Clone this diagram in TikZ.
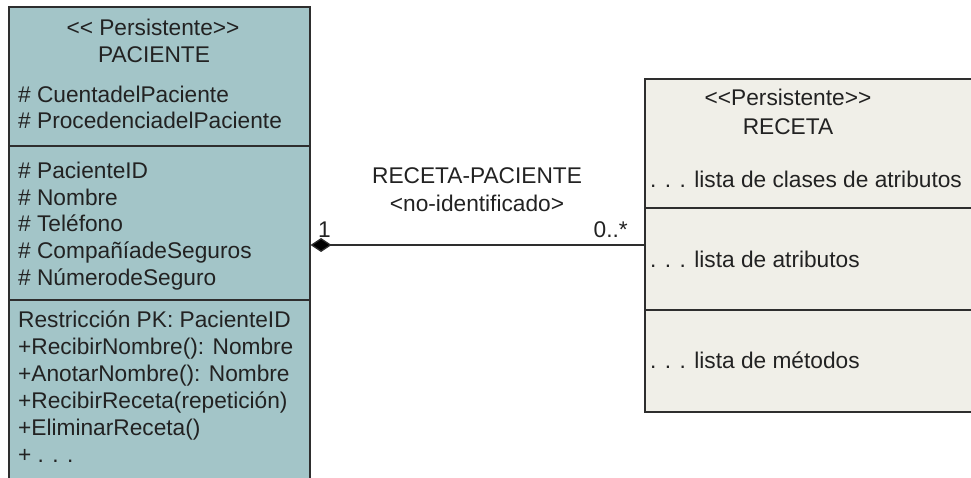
\documentclass[tikz,border=0pt]{standalone}
\usepackage{fontspec}
\setmainfont{Liberation Sans}[Ligatures=NoCommon]
\usetikzlibrary{arrows.meta}
\definecolor{pacfill}{HTML}{A3C5C8}
\definecolor{recfill}{HTML}{F0EFE8}
\definecolor{edge}{HTML}{2E2E2E}
\definecolor{ink}{HTML}{222222}
\tikzset{
  classbox/.style={draw=edge, line width=1.6pt, anchor=north west, inner sep=0pt},
  divider/.style={draw=edge, line width=1.6pt},
  txt/.style={anchor=base west, inner sep=0pt, text=ink, font=\fontsize{22.7}{26}\selectfont},
  ctxt/.style={anchor=base, inner sep=0pt, text=ink, font=\fontsize{22.7}{26}\selectfont},
  assoc/.style={draw=edge, line width=1.3pt, -{Diamond[length=21pt,width=14pt,fill=black]}}
}
\begin{document}
\begin{tikzpicture}[x=1pt,y=-1pt]
\useasboundingbox (0,0) rectangle (971,478);
\clip (0,0) rectangle (971,478);
% boxes
\node[classbox, fill=pacfill, minimum width=301pt, minimum height=490pt] (pac) at (8,6) {};
\node[classbox, fill=recfill, minimum width=340pt, minimum height=333pt] (rec) at (644,78) {};
% dividers
\coordinate (d1) at (0,146);
\coordinate (d2) at (0,300);
\coordinate (d3) at (0,208);
\coordinate (d4) at (0,310);
\draw[divider] (pac.west |- d1) -- (pac.east |- d1);
\draw[divider] (pac.west |- d2) -- (pac.east |- d2);
\draw[divider] (rec.west |- d3) -- (rec.east |- d3);
\draw[divider] (rec.west |- d4) -- (rec.east |- d4);
% PACIENTE texts
\node[ctxt] (p0) at (153,36) {<{}< Persistente>{}>};
\node[ctxt] (p1) at (154,63) {PACIENTE};
\node[txt] (a1) at (18,103) {\# CuentadelPaciente};
\node[txt] (a2) at (18,129) {\# ProcedenciadelPaciente};
\node[txt] (b1) at (18,179) {\# PacienteID};
\node[txt] (b2) at (18,205.5) {\# Nombre};
\node[txt] (b3) at (18,232) {\# Teléfono};
\node[txt] (b4) at (18,258.5) {\# CompañíadeSeguros};
\node[txt] (b5) at (18,285) {\# NúmerodeSeguro};
\node[txt] (c1) at (18,327) {Restricción PK: PacienteID};
\node[txt] (c2) at (18,354) {+RecibirNombre(): Nombre};
\node[txt] (c3) at (18,381) {+AnotarNombre(): Nombre};
\node[txt] (c4) at (18,408) {+RecibirReceta(repetición)};
\node[txt] (c5) at (18,435) {+EliminarReceta()};
\node[txt] (c6) at (18,462) {+ . . .};
% RECETA texts
\node[ctxt] (r0) at (788,106) {<{}<Persistente>{}>};
\node[ctxt] (r1) at (788,135) {RECETA};
\node[txt] (r2) at (650,188) {. . . lista de clases de atributos};
\node[txt] (r3) at (650,267) {. . . lista de atributos};
\node[txt] (r4) at (650,368) {. . . lista de métodos};
% association
\coordinate (ly) at (0,245);
\draw[assoc] (rec.west |- ly) -- (pac.east |- ly);
\node[ctxt] (l1) at (477,184) {RECETA-PACIENTE};
\node[ctxt] (l2) at (477,212) {<no-identificado>};
\node[txt] (m1) at (318,237) {1};
\node[txt, anchor=base east] (m2) at (628,237) {0..*};
\end{tikzpicture}
\end{document}
